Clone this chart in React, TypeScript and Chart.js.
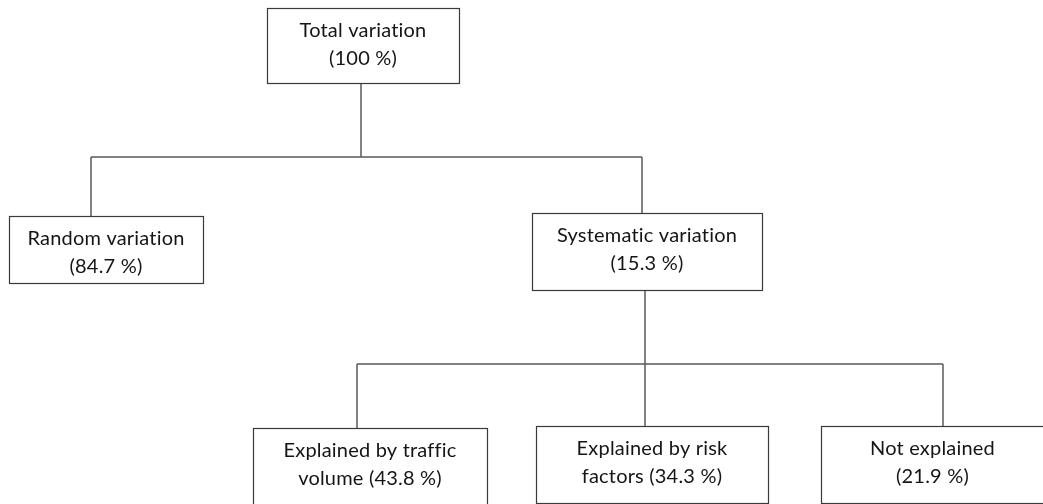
import React, { useEffect, useRef } from "react";
import { Chart, registerables } from "chart.js";

Chart.register(...registerables);

// ---- data ----
const nodeLabels = [
  "Total variation\n{p}",
  "Random variation\n{p}",
  "Systematic variation\n{p}",
  "Explained by traffic\nvolume {p}",
  "Explained by risk\nfactors {p}",
  "Not explained\n{p}",
];
const nodeShares = [100, 84.7, 15.3, 43.8, 34.3, 21.9];
const nodeParents = [-1, 0, 0, 2, 2, 2];

// ---- layout (chart units) ----
const boxLeft = [267, 9, 532, 253, 536, 821];
const boxTop = [8, 216, 213, 428, 426, 426];
const boxRight = [459, 203, 762, 487, 768, 1044];
const boxBottom = [83, 283, 290, 507, 503, 503];
const attachX = [361, 91, 642, 357, 645, 943];
const dropX = [361, 0, 645, 0, 0, 0];
const busY = [157, 0, 364, 0, 0, 0];

const W = 1043;
const H = 504;

const FONT = "20px Lato";
const LINE_GAP = 28.5;
const FIRST_BASE = 28.5;

const treePlugin = {
  id: "treePlugin",
  afterDatasetsDraw(chart: any) {
    const { ctx, scales } = chart;
    const xs = scales.x;
    const ys = scales.y;
    const px = (v: number) => xs.getPixelForValue(v);
    const py = (v: number) => ys.getPixelForValue(v);
    ctx.save();
    // connectors
    ctx.strokeStyle = "#5a5a5a";
    ctx.lineWidth = 1.5;
    nodeParents.forEach((p, i) => {
      if (p < 0) return;
      ctx.beginPath();
      ctx.moveTo(px(attachX[i]), py(busY[p]));
      ctx.lineTo(px(attachX[i]), py(boxTop[i]));
      ctx.stroke();
    });
    nodeLabels.forEach((_, p) => {
      const kids = nodeParents
        .map((q, i) => (q === p ? i : -1))
        .filter((i) => i >= 0);
      if (!kids.length) return;
      const kx = kids.map((k) => attachX[k]);
      ctx.beginPath();
      ctx.moveTo(px(dropX[p]), py(boxBottom[p]));
      ctx.lineTo(px(dropX[p]), py(busY[p]));
      ctx.moveTo(px(Math.min(...kx)), py(busY[p]));
      ctx.lineTo(px(Math.max(...kx)), py(busY[p]));
      ctx.stroke();
    });
    // boxes
    ctx.strokeStyle = "#3a3a3a";
    ctx.lineWidth = 1.2;
    ctx.fillStyle = "#151515";
    ctx.font = FONT;
    try {
      (ctx as any).letterSpacing = "0.2px";
    } catch (e) {}
    ctx.textAlign = "center";
    ctx.textBaseline = "alphabetic";
    nodeLabels.forEach((label, i) => {
      const l = px(boxLeft[i]);
      const r = px(boxRight[i]);
      const t = py(boxTop[i]);
      const b = py(boxBottom[i]);
      ctx.strokeRect(Math.round(l) + 0.5, Math.round(t) + 0.5, Math.round(r - l), Math.round(b - t));
      const text = label.replace("{p}", `(${nodeShares[i]} %)`);
      const lines = text.split("\n");
      const cx = (l + r) / 2;
      lines.forEach((line, k) => {
        ctx.fillText(line, cx, t + FIRST_BASE + k * LINE_GAP);
      });
    });
    ctx.restore();
  },
};

export default function App() {
  const ref = useRef<HTMLCanvasElement | null>(null);
  useEffect(() => {
    document.body.style.margin = "0";
    document.body.style.background = "#ffffff";
    const canvas = ref.current;
    if (!canvas) return;
    const chart = new Chart(canvas, {
      type: "scatter",
      data: {
        datasets: [
          {
            label: "nodes",
            data: nodeLabels.map((_, i) => ({
              x: (boxLeft[i] + boxRight[i]) / 2,
              y: (boxTop[i] + boxBottom[i]) / 2,
            })),
            pointRadius: 0,
          },
        ],
      },
      options: {
        animation: false,
        responsive: false,
        layout: { padding: 0 },
        plugins: { legend: { display: false }, tooltip: { enabled: false } },
        scales: {
          x: { type: "linear", min: 0, max: W, display: false },
          y: { type: "linear", min: 0, max: H, reverse: true, display: false },
        },
      },
      plugins: [treePlugin],
    });
    return () => chart.destroy();
  }, []);
  return (
    <div style={{ width: W, height: H, background: "#fff" }}>
      <canvas ref={ref} width={W} height={H} style={{ display: "block" }} />
    </div>
  );
}
